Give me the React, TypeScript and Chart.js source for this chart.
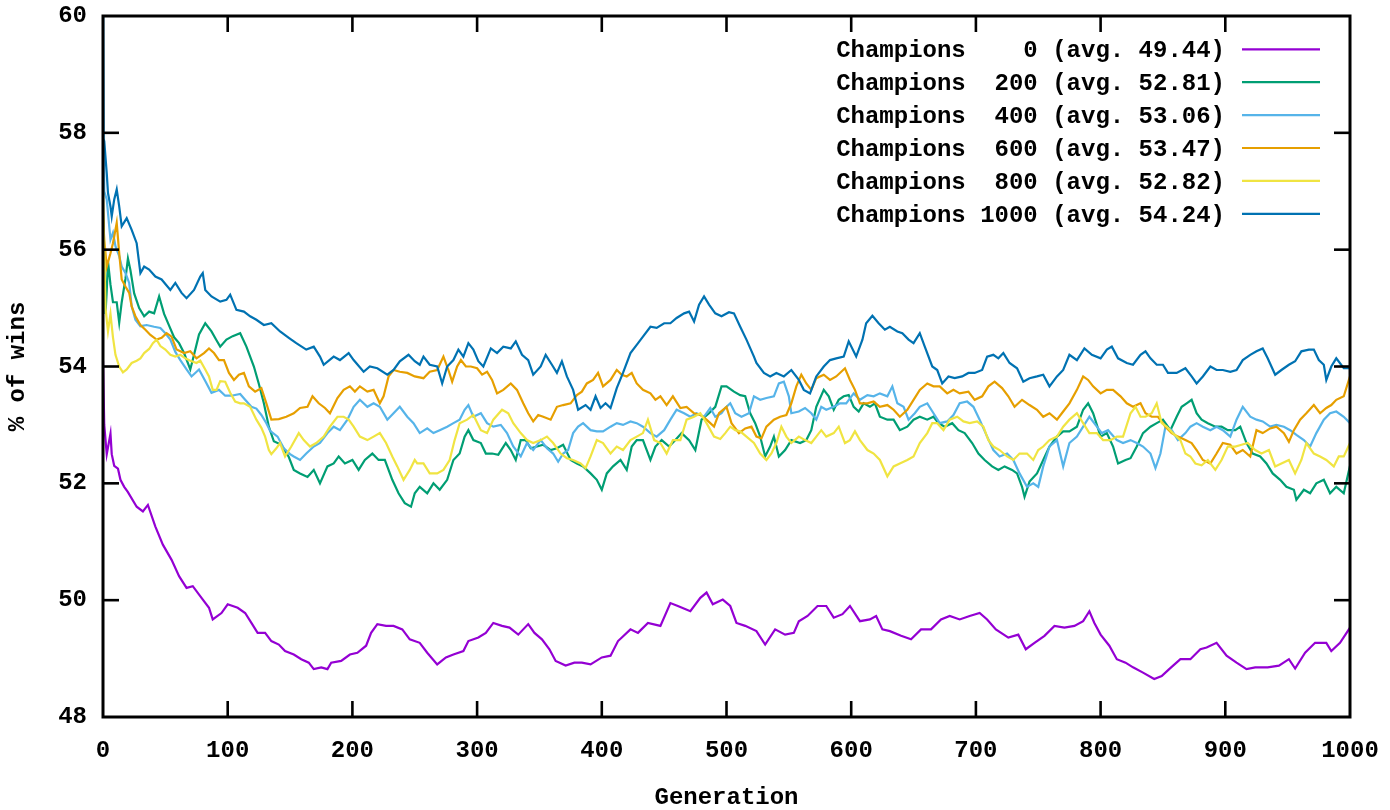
import { useEffect, useRef } from "react";
import { Chart, registerables } from "chart.js";

Chart.register(...registerables);

// [generation, % of wins]
const champions0: [number, number][] = [
  [0, 54.1], [1, 53.0], [3, 52.5], [6, 52.85], [7, 52.5], [9, 52.3], [12, 52.25], [14, 52.06], [17, 51.94], [20, 51.85],
  [27, 51.6], [32, 51.52], [36, 51.63], [42, 51.26], [48, 50.95], [55, 50.69], [61, 50.41], [67, 50.21], [72, 50.24], [79, 50.04],
  [85, 49.87], [88, 49.67], [95, 49.78], [100, 49.93], [108, 49.87], [114, 49.78], [119, 49.61], [124, 49.44], [130, 49.44], [135, 49.3],
  [141, 49.24], [146, 49.13], [153, 49.07], [159, 48.99], [165, 48.93], [169, 48.82], [175, 48.85], [180, 48.82], [183, 48.93], [191, 48.96],
  [198, 49.07], [204, 49.1], [211, 49.22], [215, 49.44], [220, 49.59], [227, 49.56], [233, 49.56], [240, 49.5], [246, 49.33], [254, 49.27],
  [260, 49.1], [268, 48.9], [275, 49.02], [281, 49.07], [289, 49.13], [293, 49.3], [301, 49.36], [307, 49.44], [313, 49.61], [320, 49.56],
  [326, 49.53], [333, 49.41], [341, 49.59], [346, 49.44], [352, 49.33], [358, 49.16], [363, 48.96], [371, 48.88], [378, 48.93], [384, 48.93],
  [391, 48.9], [400, 49.02], [407, 49.05], [413, 49.3], [423, 49.5], [429, 49.44], [437, 49.61], [447, 49.56], [455, 49.95], [461, 49.9],
  [471, 49.81], [479, 50.04], [484, 50.13], [489, 49.93], [497, 50.01], [503, 49.9], [508, 49.61], [515, 49.56], [524, 49.47], [531, 49.24],
  [539, 49.5], [547, 49.41], [554, 49.44], [558, 49.64], [565, 49.73], [573, 49.9], [580, 49.9], [586, 49.7], [593, 49.76], [599, 49.9],
  [607, 49.64], [615, 49.67], [620, 49.73], [625, 49.5], [631, 49.47], [640, 49.39], [648, 49.33], [656, 49.5], [664, 49.5], [672, 49.67],
  [679, 49.73], [687, 49.67], [695, 49.73], [703, 49.78], [709, 49.67], [716, 49.5], [726, 49.36], [734, 49.41], [740, 49.16], [747, 49.27],
  [755, 49.39], [763, 49.56], [771, 49.53], [779, 49.56], [786, 49.64], [791, 49.81], [795, 49.61], [800, 49.41], [807, 49.22], [813, 48.99],
  [820, 48.93], [826, 48.85], [834, 48.76], [843, 48.65], [849, 48.7], [855, 48.82], [864, 48.99], [872, 48.99], [880, 49.16], [885, 49.19],
  [893, 49.27], [901, 49.05], [909, 48.93], [917, 48.82], [924, 48.85], [934, 48.85], [943, 48.88], [951, 48.99], [956, 48.83], [964, 49.1],
  [972, 49.27], [981, 49.27], [985, 49.13], [992, 49.27], [1000, 49.53],
];

const champions200: [number, number][] = [
  [0, 56.5], [2, 54.9], [3, 55.3], [4, 55.8], [6, 55.4], [8, 55.1], [11, 55.1], [13, 54.75], [15, 55.1], [18, 55.5],
  [20, 55.85], [22, 55.65], [25, 55.25], [29, 55.0], [33, 54.86], [37, 54.94], [41, 54.91], [45, 55.2], [49, 54.9], [53, 54.7],
  [57, 54.5], [61, 54.4], [65, 54.23], [70, 53.95], [73, 54.2], [77, 54.55], [82, 54.74], [87, 54.6], [91, 54.45], [94, 54.34],
  [99, 54.46], [104, 54.52], [110, 54.57], [115, 54.34], [121, 54.0], [125, 53.7], [129, 53.37], [133, 52.97], [137, 52.72], [143, 52.66],
  [149, 52.45], [153, 52.23], [158, 52.17], [164, 52.11], [169, 52.23], [174, 52.0], [180, 52.29], [185, 52.34], [189, 52.46], [194, 52.34],
  [200, 52.4], [205, 52.23], [210, 52.4], [216, 52.51], [221, 52.4], [226, 52.4], [232, 52.06], [237, 51.83], [242, 51.66], [247, 51.6],
  [250, 51.83], [254, 51.94], [260, 51.83], [265, 52.0], [270, 51.89], [276, 52.06], [281, 52.4], [286, 52.51], [290, 52.8], [293, 52.91],
  [297, 52.74], [303, 52.69], [307, 52.51], [312, 52.51], [317, 52.49], [323, 52.69], [327, 52.57], [331, 52.4], [335, 52.74], [339, 52.74],
  [343, 52.6], [348, 52.63], [353, 52.66], [359, 52.57], [364, 52.6], [369, 52.66], [375, 52.4], [380, 52.34], [385, 52.29], [391, 52.17],
  [396, 52.06], [400, 51.89], [404, 52.17], [409, 52.29], [415, 52.4], [420, 52.23], [424, 52.63], [428, 52.74], [433, 52.74], [439, 52.4],
  [443, 52.63], [448, 52.74], [454, 52.63], [459, 52.74], [464, 52.86], [470, 52.74], [475, 52.57], [480, 53.09], [486, 53.2], [491, 53.31],
  [496, 53.66], [500, 53.66], [506, 53.57], [511, 53.51], [515, 53.49], [519, 53.2], [523, 53.03], [527, 52.8], [531, 52.46], [535, 52.63],
  [538, 52.8], [542, 52.46], [547, 52.57], [552, 52.74], [559, 52.69], [564, 52.74], [568, 52.91], [572, 53.31], [578, 53.6], [582, 53.49],
  [586, 53.26], [590, 53.43], [594, 53.49], [598, 53.51], [602, 53.31], [606, 53.23], [610, 53.37], [615, 53.31], [619, 53.37], [623, 53.14],
  [629, 53.09], [634, 53.09], [639, 52.91], [645, 52.97], [650, 53.09], [655, 53.14], [661, 53.09], [666, 53.14], [670, 53.03], [675, 52.97],
  [681, 53.03], [686, 52.91], [691, 52.86], [697, 52.69], [702, 52.51], [707, 52.4], [713, 52.29], [718, 52.23], [723, 52.29], [729, 52.23],
  [733, 52.17], [737, 51.94], [739, 51.77], [743, 52.03], [749, 52.17], [754, 52.4], [759, 52.63], [765, 52.8], [770, 52.89], [775, 52.89],
  [781, 52.97], [786, 53.26], [790, 53.37], [794, 53.2], [800, 52.8], [805, 52.86], [810, 52.63], [814, 52.34], [820, 52.4], [824, 52.43],
  [829, 52.63], [834, 52.86], [840, 52.97], [845, 53.03], [850, 53.09], [856, 52.91], [861, 53.14], [865, 53.31], [869, 53.37], [873, 53.43],
  [877, 53.2], [881, 53.09], [886, 53.03], [892, 52.97], [897, 52.97], [902, 52.91], [908, 52.91], [912, 52.97], [917, 52.69], [922, 52.51],
  [928, 52.46], [933, 52.34], [938, 52.17], [944, 52.06], [949, 51.94], [955, 51.89], [957, 51.72], [963, 51.89], [968, 51.83], [973, 52.0],
  [979, 52.06], [984, 51.83], [989, 51.94], [995, 51.83], [1000, 52.3],
];

const champions400: [number, number][] = [
  [0, 61], [1, 57.0], [3, 56.86], [6, 56.17], [8, 56.29], [10, 56.06], [13, 55.89], [15, 55.71], [18, 55.6], [21, 55.43],
  [23, 55.03], [26, 54.8], [30, 54.69], [35, 54.71], [41, 54.68], [46, 54.66], [50, 54.57], [54, 54.46], [58, 54.25], [62, 54.11],
  [67, 53.95], [71, 53.83], [77, 53.95], [82, 53.75], [87, 53.55], [93, 53.6], [98, 53.5], [103, 53.5], [110, 53.53], [114, 53.43],
  [119, 53.31], [123, 53.28], [127, 53.17], [131, 53.03], [134, 52.9], [140, 52.8], [145, 52.6], [150, 52.5], [153, 52.46], [158, 52.4],
  [163, 52.51], [169, 52.63], [174, 52.69], [180, 52.86], [185, 52.97], [190, 52.91], [196, 53.09], [201, 53.31], [206, 53.43], [212, 53.31],
  [217, 53.37], [222, 53.31], [228, 53.09], [233, 53.2], [238, 53.31], [244, 53.14], [249, 53.03], [254, 52.86], [260, 52.94], [265, 52.86],
  [270, 52.91], [276, 52.97], [281, 53.03], [286, 53.09], [290, 53.26], [293, 53.34], [297, 53.14], [303, 53.2], [308, 53.03], [313, 52.97],
  [319, 53.0], [324, 52.86], [329, 52.63], [335, 52.46], [340, 52.69], [345, 52.57], [351, 52.74], [356, 52.6], [361, 52.51], [365, 52.37],
  [369, 52.51], [373, 52.57], [377, 52.86], [381, 52.97], [385, 53.03], [391, 52.91], [396, 52.89], [401, 52.89], [407, 52.97], [412, 53.03],
  [417, 53.0], [423, 53.06], [428, 53.03], [433, 52.97], [439, 52.86], [444, 52.8], [450, 52.91], [455, 53.09], [460, 53.26], [466, 53.2],
  [471, 53.14], [476, 53.2], [482, 53.14], [487, 53.29], [491, 53.14], [496, 53.2], [499, 53.29], [503, 53.37], [507, 53.2], [512, 53.14],
  [518, 53.2], [522, 53.49], [527, 53.43], [532, 53.46], [538, 53.49], [542, 53.71], [546, 53.74], [550, 53.49], [552, 53.2], [558, 53.23],
  [563, 53.29], [568, 53.2], [572, 53.09], [576, 53.31], [580, 53.26], [586, 53.31], [591, 53.37], [596, 53.37], [602, 53.54], [607, 53.43],
  [613, 53.51], [618, 53.49], [623, 53.54], [629, 53.49], [633, 53.66], [637, 53.37], [642, 53.31], [646, 53.09], [651, 53.2], [655, 53.31],
  [661, 53.37], [666, 53.2], [671, 53.03], [677, 53.06], [682, 53.17], [687, 53.37], [693, 53.4], [698, 53.31], [703, 53.09], [709, 52.8],
  [714, 52.57], [719, 52.46], [725, 52.51], [730, 52.4], [735, 52.17], [741, 51.94], [746, 52.0], [750, 51.94], [754, 52.29], [759, 52.63],
  [765, 52.74], [770, 52.29], [775, 52.69], [781, 52.8], [786, 52.97], [791, 53.14], [797, 52.97], [801, 52.86], [806, 52.91], [813, 52.74],
  [818, 52.69], [824, 52.74], [829, 52.69], [834, 52.63], [840, 52.51], [844, 52.26], [848, 52.51], [852, 52.97], [857, 52.91], [862, 52.74],
  [868, 52.86], [872, 52.97], [877, 53.03], [882, 52.97], [888, 52.91], [893, 52.97], [898, 52.91], [904, 52.8], [909, 53.09], [914, 53.31],
  [920, 53.14], [925, 53.09], [930, 53.06], [936, 52.97], [941, 53.0], [947, 52.97], [952, 52.91], [957, 52.83], [963, 52.74], [968, 52.63],
  [973, 52.86], [979, 53.09], [984, 53.2], [989, 53.23], [995, 53.14], [1000, 53.03],
];

const champions600: [number, number][] = [
  [0, 56.6], [1, 56.17], [3, 55.71], [6, 55.94], [8, 56.11], [11, 56.46], [13, 55.94], [15, 55.49], [18, 55.37], [21, 55.26],
  [23, 55.03], [26, 54.86], [30, 54.71], [34, 54.63], [38, 54.54], [43, 54.46], [47, 54.49], [51, 54.57], [55, 54.51], [59, 54.29],
  [65, 54.23], [70, 54.26], [75, 54.14], [81, 54.23], [85, 54.31], [89, 54.23], [93, 54.11], [97, 54.11], [101, 53.89], [105, 53.77],
  [109, 53.86], [113, 53.89], [117, 53.66], [122, 53.57], [127, 53.63], [131, 53.37], [135, 53.09], [141, 53.1], [147, 53.14], [153, 53.2],
  [158, 53.29], [164, 53.31], [168, 53.49], [173, 53.37], [178, 53.29], [182, 53.2], [188, 53.46], [193, 53.6], [198, 53.66], [202, 53.57],
  [206, 53.66], [212, 53.57], [217, 53.6], [222, 53.37], [225, 53.49], [229, 53.83], [233, 53.94], [238, 53.91], [244, 53.89], [250, 53.83],
  [257, 53.8], [262, 53.91], [268, 53.94], [273, 54.17], [277, 53.94], [280, 53.74], [284, 54.0], [287, 54.11], [291, 54.0], [295, 54.0],
  [300, 53.97], [304, 53.86], [308, 53.91], [312, 53.77], [316, 53.54], [321, 53.6], [327, 53.71], [332, 53.6], [337, 53.37], [341, 53.2],
  [345, 53.06], [349, 53.17], [353, 53.14], [359, 53.09], [364, 53.31], [369, 53.34], [375, 53.37], [380, 53.51], [384, 53.57], [388, 53.71],
  [393, 53.77], [397, 53.89], [401, 53.66], [407, 53.77], [412, 53.94], [416, 53.86], [420, 53.83], [424, 53.89], [428, 53.71], [433, 53.6],
  [439, 53.54], [443, 53.43], [447, 53.49], [452, 53.34], [457, 53.49], [463, 53.29], [468, 53.31], [474, 53.2], [479, 53.17], [484, 53.09],
  [490, 52.97], [494, 53.2], [500, 53.31], [504, 53.03], [510, 52.86], [515, 52.94], [520, 52.97], [524, 52.8], [528, 52.77], [532, 52.97],
  [538, 53.09], [543, 53.14], [548, 53.17], [552, 53.37], [556, 53.66], [560, 53.86], [564, 53.71], [568, 53.6], [572, 53.8], [578, 53.86],
  [583, 53.77], [588, 53.83], [595, 53.97], [599, 53.77], [603, 53.6], [607, 53.37], [613, 53.37], [618, 53.4], [623, 53.31], [629, 53.34],
  [634, 53.26], [639, 53.14], [645, 53.26], [650, 53.43], [655, 53.6], [661, 53.71], [666, 53.66], [671, 53.66], [677, 53.54], [682, 53.6],
  [687, 53.54], [694, 53.57], [699, 53.43], [705, 53.49], [710, 53.66], [715, 53.74], [721, 53.63], [726, 53.49], [731, 53.31], [737, 53.43],
  [743, 53.34], [749, 53.26], [754, 53.14], [759, 53.2], [765, 53.09], [770, 53.23], [775, 53.37], [781, 53.6], [786, 53.83], [790, 53.77],
  [794, 53.66], [800, 53.54], [805, 53.6], [810, 53.6], [816, 53.49], [821, 53.37], [826, 53.31], [832, 53.37], [836, 53.2], [841, 53.14],
  [846, 53.14], [852, 52.97], [857, 52.86], [862, 52.8], [868, 52.74], [873, 52.69], [877, 52.57], [882, 52.4], [888, 52.34], [893, 52.51],
  [898, 52.69], [904, 52.66], [909, 52.51], [914, 52.57], [920, 52.46], [925, 52.91], [930, 52.86], [936, 52.94], [941, 52.97], [947, 52.86],
  [951, 52.71], [955, 52.91], [960, 53.09], [965, 53.2], [971, 53.34], [976, 53.2], [981, 53.29], [985, 53.34], [989, 53.43], [995, 53.49],
  [1000, 53.83],
];

const champions800: [number, number][] = [
  [0, 57.0], [2, 55.0], [4, 54.6], [6, 54.9], [8, 54.5], [10, 54.2], [13, 54.0], [16, 53.9], [19, 53.95], [23, 54.06],
  [27, 54.1], [30, 54.14], [33, 54.23], [37, 54.3], [40, 54.4], [43, 54.46], [46, 54.35], [50, 54.29], [54, 54.2], [58, 54.17],
  [62, 54.2], [66, 54.14], [70, 54.1], [75, 54.06], [78, 54.1], [82, 53.95], [85, 53.83], [88, 53.6], [91, 53.6], [94, 53.75],
  [98, 53.74], [102, 53.55], [106, 53.4], [110, 53.37], [113, 53.37], [118, 53.31], [123, 53.09], [127, 52.95], [130, 52.8], [133, 52.57],
  [135, 52.5], [139, 52.6], [142, 52.69], [146, 52.46], [151, 52.63], [157, 52.86], [161, 52.74], [166, 52.63], [171, 52.69], [177, 52.8],
  [182, 52.97], [188, 53.14], [193, 53.14], [197, 53.09], [201, 52.97], [206, 52.8], [212, 52.74], [217, 52.8], [222, 52.86], [227, 52.69],
  [232, 52.46], [236, 52.29], [241, 52.06], [246, 52.23], [250, 52.4], [252, 52.34], [257, 52.34], [262, 52.17], [268, 52.17], [273, 52.23],
  [278, 52.4], [282, 52.74], [286, 53.03], [292, 53.09], [297, 53.17], [303, 52.91], [308, 52.86], [313, 53.09], [320, 53.26], [325, 53.2],
  [329, 53.03], [335, 52.86], [340, 52.74], [345, 52.69], [351, 52.74], [356, 52.8], [361, 52.69], [367, 52.51], [372, 52.43], [377, 52.4],
  [383, 52.34], [387, 52.26], [391, 52.46], [396, 52.74], [401, 52.69], [407, 52.51], [412, 52.63], [417, 52.57], [423, 52.74], [428, 52.8],
  [433, 52.86], [437, 53.09], [442, 52.74], [447, 52.69], [452, 52.51], [457, 52.74], [463, 52.74], [468, 53.09], [474, 53.14], [479, 53.2],
  [484, 53.03], [490, 52.8], [495, 52.76], [499, 52.86], [503, 52.97], [507, 52.91], [511, 52.89], [516, 52.8], [522, 52.69], [527, 52.51],
  [532, 52.4], [536, 52.51], [540, 52.69], [544, 52.97], [548, 52.8], [552, 52.69], [558, 52.8], [563, 52.74], [568, 52.69], [572, 52.8],
  [576, 52.91], [580, 52.8], [586, 52.86], [590, 52.97], [595, 52.69], [599, 52.74], [603, 52.89], [607, 52.74], [613, 52.57], [618, 52.51],
  [623, 52.4], [629, 52.12], [634, 52.29], [639, 52.34], [645, 52.4], [650, 52.46], [655, 52.69], [661, 52.86], [665, 53.03], [669, 53.03],
  [674, 52.91], [679, 53.09], [685, 53.14], [690, 53.06], [695, 53.03], [701, 53.06], [706, 52.97], [710, 52.74], [714, 52.63], [719, 52.57],
  [725, 52.46], [730, 52.4], [735, 52.51], [741, 52.51], [746, 52.4], [750, 52.57], [754, 52.63], [759, 52.74], [765, 52.8], [770, 52.97],
  [775, 53.09], [781, 53.2], [786, 53.03], [791, 52.86], [797, 52.86], [802, 52.74], [808, 52.74], [813, 52.8], [818, 52.8], [824, 53.2],
  [828, 53.31], [832, 53.14], [836, 53.14], [841, 53.2], [845, 53.37], [849, 53.03], [853, 52.97], [858, 52.86], [864, 52.74], [868, 52.51],
  [872, 52.46], [876, 52.34], [881, 52.31], [886, 52.4], [892, 52.23], [897, 52.4], [902, 52.63], [908, 52.63], [913, 52.66], [918, 52.69],
  [924, 52.57], [929, 52.51], [935, 52.57], [940, 52.29], [945, 52.34], [951, 52.4], [956, 52.17], [961, 52.4], [965, 52.69], [971, 52.51],
  [976, 52.46], [981, 52.4], [987, 52.29], [991, 52.46], [995, 52.46], [1000, 52.69],
];

const champions1000: [number, number][] = [
  [0, 57.9], [1, 57.86], [3, 57.31], [4, 56.97], [6, 56.74], [7, 56.57], [9, 56.86], [11, 57.03], [13, 56.74], [15, 56.4],
  [19, 56.54], [23, 56.34], [27, 56.11], [30, 55.6], [33, 55.71], [37, 55.66], [42, 55.54], [47, 55.49], [54, 55.31], [58, 55.43],
  [63, 55.26], [67, 55.17], [73, 55.31], [78, 55.54], [80, 55.6], [82, 55.31], [87, 55.2], [94, 55.11], [99, 55.14], [102, 55.23],
  [107, 54.97], [113, 54.94], [118, 54.86], [123, 54.8], [129, 54.71], [135, 54.74], [142, 54.6], [149, 54.49], [155, 54.4], [163, 54.29],
  [169, 54.34], [174, 54.17], [177, 54.03], [185, 54.17], [190, 54.11], [197, 54.23], [201, 54.11], [209, 53.91], [214, 54.0], [220, 53.97],
  [228, 53.86], [233, 53.94], [238, 54.09], [245, 54.2], [250, 54.09], [254, 54.03], [257, 54.17], [262, 54.03], [268, 54.0], [272, 53.71],
  [276, 54.0], [281, 54.11], [285, 54.29], [289, 54.17], [293, 54.4], [297, 54.29], [301, 54.09], [305, 54.0], [311, 54.31], [316, 54.23],
  [321, 54.34], [327, 54.31], [331, 54.43], [336, 54.2], [341, 54.11], [345, 53.86], [351, 54.0], [355, 54.2], [360, 54.03], [364, 53.89],
  [368, 54.09], [372, 53.83], [377, 53.6], [381, 53.26], [387, 53.34], [391, 53.26], [395, 53.49], [399, 53.29], [403, 53.37], [407, 53.29],
  [412, 53.63], [417, 53.89], [423, 54.23], [428, 54.37], [433, 54.51], [439, 54.68], [444, 54.66], [450, 54.74], [455, 54.74], [460, 54.83],
  [466, 54.91], [470, 54.94], [474, 54.77], [478, 55.06], [482, 55.2], [486, 55.06], [491, 54.91], [496, 54.86], [502, 54.93], [506, 54.91],
  [511, 54.68], [516, 54.46], [522, 54.17], [524, 54.06], [530, 53.89], [535, 53.83], [540, 53.89], [546, 53.83], [552, 53.94], [558, 53.77],
  [562, 53.6], [567, 53.54], [572, 53.83], [578, 54.0], [583, 54.11], [588, 54.14], [594, 54.17], [598, 54.43], [604, 54.17], [609, 54.46],
  [612, 54.74], [617, 54.87], [622, 54.74], [627, 54.63], [631, 54.68], [637, 54.6], [641, 54.57], [646, 54.46], [650, 54.4], [655, 54.57],
  [659, 54.34], [665, 54.0], [669, 53.94], [673, 53.71], [678, 53.83], [683, 53.8], [689, 53.83], [694, 53.89], [699, 53.89], [705, 53.94],
  [709, 54.17], [714, 54.2], [718, 54.14], [722, 54.23], [727, 54.06], [733, 53.97], [738, 53.74], [743, 53.8], [749, 53.83], [754, 53.86],
  [759, 53.66], [765, 53.83], [770, 53.94], [775, 54.2], [781, 54.11], [787, 54.31], [793, 54.2], [800, 54.14], [805, 54.29], [809, 54.34],
  [814, 54.14], [821, 54.06], [826, 54.03], [832, 54.2], [836, 54.26], [840, 54.14], [845, 54.03], [850, 54.03], [854, 53.89], [861, 53.89],
  [868, 53.97], [873, 53.83], [877, 53.71], [882, 53.83], [888, 54.0], [893, 53.94], [898, 53.94], [904, 53.91], [909, 53.94], [914, 54.11],
  [920, 54.2], [925, 54.26], [930, 54.31], [934, 54.14], [940, 53.86], [945, 53.94], [951, 54.03], [956, 54.09], [961, 54.26], [967, 54.29],
  [971, 54.29], [975, 54.11], [979, 54.03], [981, 53.77], [985, 54.0], [989, 54.14], [995, 53.97], [1000, 53.97],
];

const championCounts = [0, 200, 400, 600, 800, 1000];
const averages = [49.44, 52.81, 53.06, 53.47, 52.82, 54.24];
const seriesList = [champions0, champions200, champions400, champions600, champions800, champions1000];
const seriesColors = ["#9400d3", "#009e73", "#56b4e9", "#e69f00", "#f0e442", "#0072b2"];

const X_MIN = 0, X_MAX = 1000, X_STEP = 100;
const Y_MIN = 48, Y_MAX = 60, Y_STEP = 2;

const FONT = "'Liberation Mono', 'Courier New', monospace";

const framePlugin = {
  id: "gnuFrame",
  afterDatasetsDraw(chart: any) {
    const { ctx, chartArea: a, scales } = chart;
    ctx.save();
    ctx.strokeStyle = "#000";
    ctx.lineWidth = 2.6;
    const tl = 16;
    const seg = (x1: number, y1: number, x2: number, y2: number) => {
      ctx.beginPath();
      ctx.moveTo(x1, y1);
      ctx.lineTo(x2, y2);
      ctx.stroke();
    };
    scales.x.ticks.forEach((t: any) => {
      const px = scales.x.getPixelForValue(t.value);
      if (px <= a.left + 1 || px >= a.right - 1) return;
      seg(px, a.bottom, px, a.bottom - tl);
      seg(px, a.top, px, a.top + tl);
    });
    scales.y.ticks.forEach((t: any) => {
      const py = scales.y.getPixelForValue(t.value);
      if (py <= a.top + 1 || py >= a.bottom - 1) return;
      seg(a.left, py, a.left + tl, py);
      seg(a.right, py, a.right - tl, py);
    });
    ctx.lineWidth = 3;
    ctx.strokeRect(a.left, a.top, a.right - a.left, a.bottom - a.top);
    ctx.restore();
  },
};

const keyPlugin = {
  id: "gnuKey",
  afterDraw(chart: any) {
    const { ctx, chartArea: a } = chart;
    ctx.save();
    ctx.font = `bold 24px ${FONT}`;
    ctx.textAlign = "right";
    ctx.textBaseline = "alphabetic";
    const textRight = a.right - 125;
    const lineStart = a.right - 108;
    const lineEnd = a.right - 30;
    chart.data.datasets.forEach((ds: any, i: number) => {
      const y = a.top + 33.3 + i * 32.9;
      ctx.fillStyle = "#000";
      ctx.fillText(ds.label, textRight, y + 8);
      ctx.strokeStyle = ds.borderColor;
      ctx.lineWidth = 2.2;
      ctx.beginPath();
      ctx.moveTo(lineStart, y);
      ctx.lineTo(lineEnd, y);
      ctx.stroke();
    });
    ctx.restore();
  },
};

export default function App() {
  const canvasRef = useRef<HTMLCanvasElement | null>(null);

  useEffect(() => {
    document.body.style.margin = "0";
    const canvas = canvasRef.current;
    if (!canvas) return;
    const datasets = seriesList.map((s, i) => ({
      label: `Champions ${String(championCounts[i]).padStart(4, " ")} (avg. ${averages[i].toFixed(2)})`,
      data: s.map(([g, v]) => ({ x: g, y: v })),
      borderColor: seriesColors[i],
      backgroundColor: seriesColors[i],
      borderWidth: 2.2,
      pointRadius: 0,
      tension: 0,
      fill: false,
      order: seriesList.length - i,
    }));
    const chart = new Chart(canvas, {
      type: "line",
      data: { datasets },
      options: {
        animation: false,
        responsive: false,
        maintainAspectRatio: false,
        layout: { padding: { top: 16, right: 40, left: 0, bottom: 0 } },
        plugins: { legend: { display: false }, tooltip: { enabled: false } },
        scales: {
          x: {
            type: "linear",
            min: X_MIN,
            max: X_MAX,
            grid: { display: false, drawTicks: false },
            border: { display: false },
            ticks: {
              stepSize: X_STEP,
              color: "#000",
              padding: 20,
              maxRotation: 0,
              autoSkip: false,
              callback: (v: any) => String(v),
              font: { family: FONT, size: 24, weight: "bold" },
            },
            title: {
              display: true,
              text: "Generation",
              color: "#000",
              padding: { top: 0, bottom: 0 },
              font: { family: FONT, size: 24, weight: "bold", lineHeight: 1 },
            },
            afterFit: (scale: any) => {
              scale.height = 93;
              scale.paddingLeft = 0;
              scale.paddingRight = 0;
            },
          },
          y: {
            type: "linear",
            min: Y_MIN,
            max: Y_MAX,
            grid: { display: false, drawTicks: false },
            border: { display: false },
            ticks: {
              stepSize: Y_STEP,
              color: "#000",
              padding: 16,
              callback: (v: any) => String(v),
              font: { family: FONT, size: 24, weight: "bold" },
            },
            title: {
              display: true,
              text: "% of wins",
              color: "#000",
              padding: { top: 6, bottom: 0 },
              font: { family: FONT, size: 24, weight: "bold", lineHeight: 1 },
            },
            afterFit: (scale: any) => {
              scale.width = 103;
              scale.paddingTop = 0;
              scale.paddingBottom = 0;
            },
          },
        },
      },
      plugins: [framePlugin, keyPlugin],
    } as any);
    return () => chart.destroy();
  }, []);

  return (
    <div style={{ width: 1390, height: 810, background: "#fff" }}>
      <canvas ref={canvasRef} width={1390} height={810} style={{ display: "block" }} />
    </div>
  );
}
